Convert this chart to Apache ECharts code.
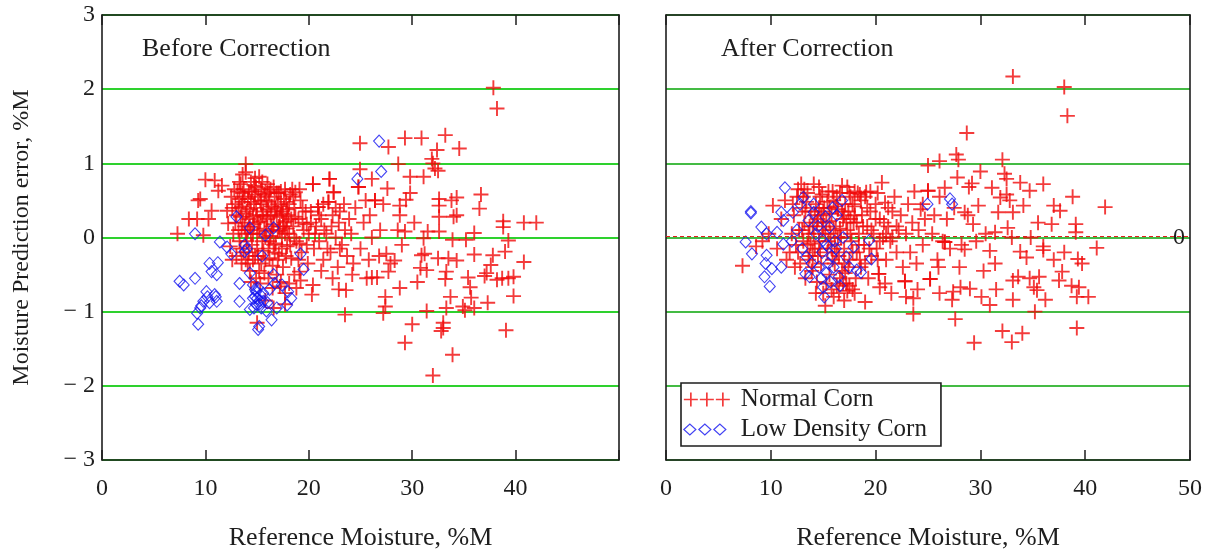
<!DOCTYPE html>
<html>
<head>
<meta charset="utf-8">
<script src="https://cdn.jsdelivr.net/npm/echarts@6/dist/echarts.min.js"></script>
<style>
html,body{margin:0;padding:0;background:#fff;}
#c{width:1217px;height:556px;}
</style>
</head>
<body>
<div id="c"></div>
<script>
// ---- data (x = reference moisture %M, y = prediction error %M) ----
const xTicks = [0, 10, 20, 30, 40, 50];
const yTicks = [-3, -2, -1, 0, 1, 2, 3];

const beforeNormal = [
[7.3,0.05],[8.4,0.25],[9.2,0.25],[9.5,0.52],[9.3,0.50],[9.8,0.03],[10.3,0.25],[10.0,0.78],[10.9,0.77],[10.6,0.36],
[11.25,0.63],[11.6,0.70],[12.1,0.36],[12.2,0.19],[12.5,0.55],[12.8,0.65],[12.9,0.45],[13.9,0.99],[13.9,0.88],[13.4,0.72],
[13.6,0.60],[13.0,0.30],[13.2,0.10],[13.3,-0.05],[13.5,0.42],[13.6,0.20],[13.7,-0.20],[13.8,0.55],[13.9,0.05],[14.0,0.35],
[14.1,-0.35],[14.2,0.62],[14.3,0.15],[14.4,0.48],[14.5,-0.10],[14.6,0.28],[14.7,0.70],[14.8,-0.25],[14.9,0.40],[15.0,0.05],
[15.1,0.55],[15.2,-0.45],[15.3,0.22],[15.4,0.65],[15.5,-0.05],[15.6,0.35],[15.7,0.12],[15.8,-0.30],[15.9,0.50],[16.0,0.25],
[16.1,-0.15],[16.2,0.60],[16.3,0.02],[16.4,0.42],[16.5,-0.38],[16.6,0.18],[16.7,0.55],[16.8,-0.08],[16.9,0.30],[17.0,0.45],
[17.1,-0.22],[17.2,0.10],[17.3,0.62],[17.4,0.35],[17.5,-0.40],[17.6,0.20],[17.7,0.05],[17.8,0.48],[17.9,-0.12],[18.0,0.30],
[18.2,0.58],[18.3,-0.28],[18.5,0.15],[18.6,0.40],[18.8,-0.05],[19.0,0.25],[19.2,0.50],[19.3,-0.20],[19.5,0.10],[19.7,0.35],
[19.9,-0.35],[20.0,0.05],[20.2,0.20],[20.4,0.72],[20.5,-0.15],[20.7,0.15],[20.9,0.41],[21.0,-0.05],[21.2,0.25],[21.4,-0.30],
[21.5,0.10],[21.7,0.05],[21.9,0.48],[22.0,0.79],[22.1,-0.20],[22.3,0.30],[22.4,0.61],[22.6,0.00],[22.8,-0.40],[22.9,0.20],
[23.0,0.35],[23.2,-0.10],[23.4,0.45],[23.5,0.10],[23.7,-0.25],[23.9,0.25],[24.1,0.05],[24.3,-0.35],[24.5,0.40],[24.8,0.68],
[25.0,-0.15],[25.3,0.20],[25.5,0.50],[25.8,-0.30],[26.1,0.00],[26.4,0.50],[26.8,-0.25],[27.2,0.45],
[13.1,0.62],[13.4,-0.15],[13.6,0.48],[13.8,0.15],[14.0,-0.05],[14.2,0.25],[14.4,0.75],[14.6,0.05],[14.8,0.58],[15.0,0.30],
[15.2,0.10],[15.4,0.45],[15.6,-0.18],[15.8,0.62],[16.0,0.38],[16.2,-0.05],[16.4,0.15],[16.6,0.68],[16.8,0.40],[17.0,-0.30],
[17.2,0.28],[17.4,0.00],[17.6,0.52],[17.8,0.22],[13.3,0.75],[13.5,-0.35],[14.1,0.10],[14.3,-0.45],[14.7,0.45],[15.1,-0.25],
[15.5,0.75],[15.9,0.08],[16.3,0.30],[16.7,-0.20],[17.1,0.60],[17.5,0.15],[17.9,0.38],[18.1,0.05],[18.4,0.65],[18.7,0.28],
[19.1,-0.08],[19.4,0.40],[19.8,0.18],[14.9,-0.55],[15.3,-0.62],[15.7,-0.48],[16.1,-0.55],[16.5,-0.68],[16.9,-0.50],[17.3,-0.60],
[14.4,-0.60],[15.0,-1.15],[15.8,-0.85],[16.6,-0.95],[17.7,-0.75],[18.1,-0.62],[18.6,-0.50],[19.2,-0.58],[13.0,-0.25],[12.7,0.05],
[12.6,0.40],[12.4,-0.12],[20.4,-0.64],[18.8,-0.68],[20.3,-0.77],[17.2,-0.66],[17.7,-0.90],[19.1,-0.46],[20.4,0.72],[18.7,0.61],
[19.1,0.65],[20.9,0.41],[21.9,0.48],
[13.2,0.40],[13.4,0.28],[13.7,0.65],[13.9,0.32],[14.1,0.52],[14.3,0.38],[14.5,0.62],[14.7,0.18],[14.9,0.68],[15.1,0.20],
[15.3,0.50],[15.5,0.30],[15.7,0.58],[15.9,0.28],[16.1,0.48],[16.3,0.65],[16.5,0.10],[16.7,0.35],[16.9,0.60],[17.1,0.15],
[17.3,0.42],[17.5,0.32],[17.7,0.65],[17.9,0.12],[18.1,0.45],[18.3,0.25],[18.5,0.55],[13.5,0.10],[13.9,-0.30],[14.2,-0.20],
[14.6,-0.30],[15.0,-0.15],[15.4,-0.35],[15.8,0.00],[16.2,-0.28],[16.6,-0.10],[17.0,0.08],[17.4,-0.15],[17.8,-0.25],[18.2,-0.10],
[18.6,0.00],[19.0,-0.30],[19.4,0.20],[19.8,-0.10],[20.2,0.35],[20.6,0.05],[21.0,0.30],[21.4,0.45],[21.8,-0.15],[22.2,0.15],
[22.6,0.40],[23.0,-0.15],[13.6,0.85],[14.8,0.80],[16.0,0.72],[15.2,0.82],[13.3,0.52],[12.9,0.20],[12.6,-0.30],[14.4,0.05],
[37.85,2.02],[38.2,1.74],[24.95,1.27],[27.7,1.22],[29.3,1.34],[30.9,1.34],[33.2,1.38],[32.4,1.18],[34.55,1.20],[31.9,1.06],
[32.0,1.00],[28.65,0.99],[32.5,0.90],[32.2,0.93],[24.95,0.92],[29.8,0.82],[31.1,0.82],[22.0,0.79],[26.1,0.79],[27.6,0.66],
[24.8,0.68],[22.4,0.61],[36.65,0.58],[34.3,0.54],[33.8,0.50],[32.6,0.52],[32.6,0.43],[26.4,0.50],[29.4,0.51],[28.8,0.43],
[36.5,0.39],[28.8,0.30],[32.6,0.28],[34.0,0.28],[34.3,0.30],[38.8,0.22],[38.8,0.14],[40.8,0.20],[42.0,0.20],[39.3,-0.04],
[32.6,0.08],[31.5,0.08],[36.0,0.06],[35.2,-0.03],[33.9,-0.03],[31.1,-0.01],[28.6,0.10],[29.3,0.08],[38.98,-0.19],[37.8,-0.24],
[37.6,-0.37],[36.0,-0.23],[34.3,-0.31],[32.5,-0.28],[33.5,-0.28],[30.9,-0.24],[31.2,-0.22],[30.8,-0.41],[31.4,-0.44],[40.8,-0.33],
[27.5,-0.22],[28.3,-0.31],[27.9,-0.35],[33.3,-0.46],[33.2,-0.56],[35.4,-0.54],[35.6,-0.67],[37.2,-0.48],[37.0,-0.52],[38.2,-0.57],
[38.7,-0.55],[39.3,-0.55],[39.8,-0.53],[39.8,-0.79],[37.3,-0.88],[35.7,-0.81],[33.7,-0.80],[34.9,-0.93],[36.0,-0.95],[33.3,-0.95],
[35.1,-0.98],[31.4,-0.99],[27.4,-0.80],[27.4,-0.93],[27.2,-1.02],[28.8,-0.68],[26.1,-0.54],[26.6,-0.54],[27.7,-0.46],[23.5,-1.04],
[22.9,-0.70],[23.6,-0.71],[30.0,-1.17],[33.0,-1.15],[33.0,-1.22],[32.8,-1.26],[39.07,-1.25],[29.3,-1.42],[33.9,-1.58],[32.0,-1.86],
[29.0,-0.10],[30.2,0.20],[30.5,-0.60],[29.8,0.60],[25.9,0.30],[26.9,0.10],[24.2,-0.50],[25.6,-0.55],[21.2,-0.45],[22.3,-0.55]
];

const beforeLow = [
[9.0,0.05],[13.0,0.28],[14.3,0.13],[16.6,0.13],[15.8,0.03],[11.4,-0.06],[12.1,-0.13],[12.5,-0.22],[13.8,-0.10],[14.0,-0.15],
[13.8,-0.19],[15.5,-0.25],[19.2,-0.22],[19.5,-0.43],[10.4,-0.35],[11.2,-0.34],[10.6,-0.46],[11.1,-0.50],[7.5,-0.59],[7.9,-0.64],
[9.0,-0.55],[13.3,-0.62],[14.3,-0.48],[14.6,-0.64],[14.9,-0.73],[14.8,-0.80],[15.3,-0.77],[15.6,-0.86],[15.9,-0.99],[16.6,-0.50],
[16.7,-0.62],[17.4,-0.64],[18.0,-0.73],[18.3,-0.82],[17.9,-0.91],[10.1,-0.73],[10.9,-0.77],[11.1,-0.86],[9.8,-0.86],[9.5,-0.95],
[9.2,-1.02],[9.3,-1.17],[10.4,-0.88],[13.3,-0.86],[14.3,-0.97],[15.1,-1.24],[15.2,-1.20],[16.4,-1.11],[16.9,-0.95],[24.7,0.79],
[26.8,1.30],[27.0,0.89],[14.8,-0.70],[15.0,-0.82],[15.2,-0.90],[15.4,-0.95],[14.9,-0.90],[15.6,-0.75],[16.0,-0.88],[14.7,-0.95],
[9.6,-0.92],[10.2,-0.80],[11.0,-0.80],[15.1,-0.68],[15.3,-0.85],[14.6,-0.82],[16.2,-0.70]
];

const afterNormal = [
[7.3,-0.38],[8.6,-0.12],[9.2,-0.05],[9.8,0.05],[10.2,0.43],[10.6,-0.15],[11.0,0.25],[11.35,0.50],[11.5,-0.30],[12.9,0.72],
[14.1,0.72],[12.2,0.30],[12.4,-0.10],[12.5,0.55],[12.7,0.10],[12.8,-0.35],[13.0,0.40],[13.1,-0.05],[13.2,0.20],[13.3,-0.55],
[13.5,0.60],[13.6,0.05],[13.7,-0.25],[13.8,0.35],[13.9,-0.45],[14.0,0.15],[14.2,-0.15],[14.3,0.45],[14.4,-0.60],[14.5,0.25],
[14.6,-0.05],[14.7,0.55],[14.8,-0.35],[14.9,0.10],[15.0,-0.75],[15.1,0.40],[15.2,-0.92],[15.3,0.20],[15.4,-0.20],[15.5,0.62],
[15.6,-0.50],[15.7,0.05],[15.8,0.32],[15.9,-0.30],[16.0,0.50],[16.1,-0.10],[16.2,0.15],[16.3,-0.65],[16.4,0.38],[16.5,-0.25],
[16.6,0.60],[16.7,0.00],[16.8,-0.45],[16.9,0.25],[17.0,-0.15],[17.1,0.45],[17.2,-0.62],[17.3,0.10],[17.4,0.35],[17.5,-0.30],
[17.6,0.55],[17.7,-0.05],[17.8,-0.70],[17.9,0.20],[18.0,0.42],[18.2,-0.20],[18.3,0.60],[18.4,0.05],[18.6,-0.40],[18.7,0.30],
[18.9,-0.10],[19.0,0.55],[19.1,0.61],[19.2,0.15],[19.3,-0.55],[19.5,0.35],[19.6,-0.25],[19.8,0.05],[20.0,0.45],[20.1,-0.15],
[20.3,-0.49],[20.4,-0.67],[20.4,0.25],[20.6,0.74],[20.7,0.00],[20.9,0.47],[21.0,-0.30],[21.2,0.15],[21.4,-0.05],[21.6,0.35],
[21.8,0.55],[22.0,-0.20],[22.2,0.10],[22.4,0.30],[22.6,-0.40],[22.8,-0.59],[22.9,0.05],[23.1,0.45],[23.3,-0.20],[23.5,0.20],
[23.7,0.62],[23.9,-0.35],[24.1,0.10],[24.3,0.38],[24.5,-0.10],[24.7,0.25],[25.0,0.63],[25.2,-0.56],[25.4,0.05],[25.6,0.30],
[25.9,-0.30],[26.1,0.55],[26.4,-0.05],[26.6,-0.06],[26.8,0.25],[27.1,-0.15],
[13.4,0.48],[13.8,-0.08],[14.2,0.30],[14.6,0.40],[15.0,0.15],[15.4,0.48],[15.8,-0.15],[16.2,0.42],[16.6,0.12],[17.0,0.30],
[17.4,-0.40],[17.8,0.45],[18.2,0.20],[18.6,0.50],[19.0,-0.35],[13.1,0.55],[13.6,-0.30],[14.0,-0.40],[14.5,-0.25],[15.0,0.35],
[15.6,0.22],[16.1,-0.35],[16.6,-0.55],[17.1,-0.48],[17.6,0.25],[18.1,-0.55],[15.3,-0.62],[16.0,-0.80],[16.5,-0.75],[17.0,-0.85],
[17.3,-0.72],[12.6,0.65],[13.2,0.65],[14.9,0.58],[15.9,0.62],[16.3,0.55],[17.5,0.60],[18.0,0.62],[18.5,0.58],[12.0,0.05],
[11.8,-0.20],[12.3,-0.40],[12.1,0.45],[19.0,-0.87],[17.5,-0.65],[18.0,-0.75],[20.3,-0.49],[20.9,-0.62],
[13.3,0.35],[13.7,0.15],[14.1,0.05],[14.4,0.20],[14.8,0.30],[15.2,0.05],[15.6,0.40],[16.0,0.10],[16.4,0.00],[16.8,0.35],
[17.2,0.20],[17.6,0.05],[18.0,0.30],[18.4,-0.10],[18.8,0.15],[19.2,0.40],[19.6,0.10],[20.0,0.25],[20.4,-0.05],[20.8,0.20],
[21.2,0.40],[21.6,0.00],[22.0,0.15],[13.5,-0.10],[14.0,-0.20],[14.7,-0.15],[15.5,-0.05],[16.3,-0.20],[17.0,-0.35],[17.8,-0.20],
[18.5,-0.30],[19.4,-0.15],[20.2,-0.30],[21.0,0.05],[14.3,-0.75],[15.8,-0.70],[16.9,-0.62],[13.0,0.10],[12.6,-0.20],[14.6,0.68],
[16.8,0.70],[17.3,0.68],[19.5,0.62],[20.2,0.60],
[33.1,2.17],[38.0,2.03],[38.3,1.64],[28.7,1.41],[25.0,0.97],[26.1,1.03],[27.7,1.12],[27.9,1.05],[32.1,1.05],[30.0,0.89],
[27.8,0.81],[32.5,0.79],[32.3,0.86],[29.2,0.73],[28.9,0.68],[26.6,0.67],[31.1,0.67],[33.8,0.74],[34.7,0.63],[36.0,0.72],
[38.8,0.55],[41.9,0.41],[25.0,0.63],[32.5,0.58],[32.8,0.50],[31.9,0.54],[29.8,0.43],[28.5,0.34],[28.8,0.30],[34.1,0.43],
[37.0,0.43],[37.6,0.36],[31.7,0.34],[33.1,0.34],[36.8,0.18],[39.1,0.18],[39.1,0.07],[41.1,-0.14],[31.4,0.07],[32.6,0.13],
[33.0,0.00],[34.8,0.00],[36.0,-0.12],[36.0,-0.17],[29.3,0.18],[29.6,-0.05],[28.2,-0.10],[28.5,-0.16],[26.6,-0.06],[33.8,-0.19],
[34.4,-0.27],[38.0,-0.20],[37.0,-0.30],[39.3,-0.29],[39.7,-0.35],[31.4,-0.35],[30.9,-0.18],[33.1,-0.58],[33.6,-0.53],[34.7,-0.55],
[35.6,-0.53],[37.8,-0.46],[37.5,-0.58],[38.7,-0.65],[39.4,-0.67],[39.2,-0.80],[40.3,-0.80],[35.1,-0.67],[35.4,-0.71],[36.2,-0.84],
[35.2,-1.00],[31.5,-0.70],[30.1,-0.80],[30.9,-0.91],[33.1,-0.84],[29.0,-0.69],[28.1,-0.67],[27.4,-0.73],[27.3,-0.84],[26.1,-0.75],
[27.6,-1.10],[23.6,-0.82],[22.9,-0.80],[23.6,-1.03],[22.8,-0.59],[25.2,-0.56],[39.2,-1.22],[32.1,-1.26],[33.0,-1.41],[34.0,-1.29],
[29.4,-1.42],[30.5,0.05],[27.5,0.40],[24.0,-0.70],[21.5,-0.75],[26.0,-0.40],[24.5,0.45],[30.3,-0.45],[35.5,0.20],[28.0,-0.40]
];

const afterLow = [
[11.35,0.67],[8.1,0.33],[8.1,0.35],[7.6,-0.06],[9.1,0.14],[9.6,0.05],[8.2,-0.22],[9.6,-0.24],[9.5,-0.35],[11.2,-0.09],
[10.6,0.07],[11.0,-0.40],[10.1,-0.42],[9.4,-0.53],[9.9,-0.66],[11.0,0.34],[12.1,0.34],[11.2,0.23],[13.1,0.54],[14.1,0.45],
[13.6,0.23],[14.1,0.34],[16.8,0.50],[15.6,0.14],[15.0,-0.04],[15.3,-0.10],[14.9,-0.20],[13.4,-0.26],[13.3,-0.49],[13.7,-0.53],
[16.9,0.00],[17.9,-0.13],[17.2,-0.26],[16.0,-0.40],[16.5,-0.53],[15.3,-0.48],[18.2,-0.44],[18.6,-0.47],[15.0,-0.67],[19.6,-0.29],
[19.4,-0.04],[24.95,0.45],[27.1,0.52],[27.3,0.45],[12.5,0.10],[13.0,-0.15],[14.5,0.15],[15.2,0.28],[15.8,-0.25],[16.2,-0.15],
[15.5,-0.35],[14.8,-0.55],[16.3,0.30],[14.3,0.05],[15.9,0.40],[12.8,0.45],[16.6,-0.65],[17.5,-0.40],[15.1,-0.80],[12.0,-0.05],
[13.9,-0.35],[14.6,-0.40],[15.7,-0.60],[16.1,-0.05]
];

// ---- styling ----
const FONT = 'Liberation Serif';
const TXT = '#1e1e1e';
const crossPath = 'path://M0,6H12M6,0V12';
const crossLegend = 'path://M0,7H14M7,0V14M16,7H30M23,0V14M32,7H46M39,0V14';
const diaLegend = 'path://M0,7L6,1.5L12,7L6,12.5ZM15,7L21,1.5L27,7L21,12.5ZM30,7L36,1.5L42,7L36,12.5ZM46,0L46,0M46,14L46,14M0,0L0,0';
const RED = '#f00a0a';
const BLUE = '#1414f0';
const redStyle = {color: 'transparent', borderColor: RED, borderWidth: 1.9};
const blueStyle = {color: 'transparent', borderColor: BLUE, borderWidth: 1.1};

function yLab(v) { return v < 0 ? '\u2212 ' + Math.abs(v) : String(v); }

const frameLine = {show: true, onZero: false, lineStyle: {color: TXT, width: 1.6}};

function xAxisBottom(grid, hide50) {
  return {
    gridIndex: grid, type: 'value', position: 'bottom', min: 0, max: 50, interval: 10,
    axisLine: frameLine,
    axisTick: {show: true, inside: true, length: 10, lineStyle: {color: TXT, width: 1.5}},
    axisLabel: {fontFamily: FONT, fontSize: 24, color: TXT, margin: 17,
      formatter: v => (hide50 && v === 50) ? '' : String(v)},
    splitLine: {show: false},
    name: 'Reference Moisture, %M', nameLocation: 'middle', nameGap: 65,
    nameTextStyle: {fontFamily: FONT, fontSize: 26, color: TXT}
  };
}
function xAxisTop(grid) {
  return {
    gridIndex: grid, type: 'value', position: 'top', min: 0, max: 50, interval: 10,
    axisLine: frameLine,
    axisTick: {show: true, inside: true, length: 10, lineStyle: {color: TXT, width: 1.5}},
    axisLabel: {show: false}, splitLine: {show: false}
  };
}

const chart = echarts.init(document.getElementById('c'), null, {renderer: 'canvas'});
chart.setOption({
  animation: false,
  backgroundColor: '#fff',
  title: [
    {text: 'Before Correction', left: 137, top: 31, textStyle: {fontFamily: FONT, fontSize: 26, fontWeight: 'normal', color: TXT}},
    {text: 'After Correction', left: 716, top: 31, textStyle: {fontFamily: FONT, fontSize: 26, fontWeight: 'normal', color: TXT}}
  ],
  grid: [
    {left: 102, top: 15, width: 517, height: 448},
    {left: 666, top: 15, width: 524, height: 447}
  ],
  xAxis: [xAxisBottom(0, true), xAxisTop(0), xAxisBottom(1, false), xAxisTop(1)],
  yAxis: [
    {gridIndex: 0, type: 'value', position: 'left', min: -3, max: 3, interval: 1,
     axisLine: frameLine, axisTick: {show: false},
     axisLabel: {fontFamily: FONT, fontSize: 24, color: TXT, margin: 7, formatter: yLab},
     splitLine: {show: true, lineStyle: {color: '#2ed12e', width: 2}},
     name: 'Moisture Prediction error, %M', nameLocation: 'middle', nameGap: 68, nameRotate: 90,
     nameTextStyle: {fontFamily: FONT, fontSize: 24, color: TXT}},
    {gridIndex: 0, type: 'value', position: 'right', min: -3, max: 3, interval: 1,
     axisLine: frameLine, axisTick: {show: false},
     axisLabel: {show: false}, splitLine: {show: false}},
    {gridIndex: 1, type: 'value', position: 'left', min: -3, max: 3, interval: 1,
     axisLine: frameLine, axisTick: {show: false},
     axisLabel: {show: false},
     splitLine: {show: true, lineStyle: {color: '#44bb44', width: 2}}},
    {gridIndex: 1, type: 'value', position: 'right', min: -3, max: 3, interval: 1,
     axisLine: frameLine, axisTick: {show: false},
     axisLabel: {show: true, inside: true, margin: 5, fontFamily: FONT, fontSize: 24, color: TXT,
       formatter: v => v === 0 ? '0' : ''},
     splitLine: {show: false}}
  ],
  legend: {
    left: 681, top: 383, orient: 'vertical',
    backgroundColor: '#fff', borderColor: TXT, borderWidth: 1.6,
    padding: [4, 14, 4, 2], itemGap: 5, itemWidth: 46, itemHeight: 14,
    textStyle: {fontFamily: FONT, fontSize: 25, color: TXT, padding: [0, 0, 0, 6]},
    data: [
      {name: 'Normal Corn', icon: crossLegend, itemStyle: {color: 'transparent', borderColor: RED, borderWidth: 1.7}},
      {name: 'Low Density Corn', icon: diaLegend, itemStyle: {color: 'transparent', borderColor: BLUE, borderWidth: 1.2}}
    ]
  },
  series: [
    {name: 'Normal Corn', type: 'scatter', xAxisIndex: 0, yAxisIndex: 0, data: beforeNormal,
     symbol: crossPath, symbolSize: 15, itemStyle: redStyle, z: 3},
    {name: 'Low Density Corn', type: 'scatter', xAxisIndex: 0, yAxisIndex: 0, data: beforeLow,
     symbol: 'diamond', symbolSize: [11, 12], itemStyle: blueStyle, z: 4},
    {name: 'Normal Corn', type: 'scatter', xAxisIndex: 2, yAxisIndex: 2, data: afterNormal,
     symbol: crossPath, symbolSize: 15, itemStyle: redStyle, z: 3,
     markLine: {silent: true, symbol: 'none', label: {show: false},
       lineStyle: {color: '#e02020', type: [4, 3], width: 1},
       data: [{yAxis: 0.02}]}},
    {name: 'Low Density Corn', type: 'scatter', xAxisIndex: 2, yAxisIndex: 2, data: afterLow,
     symbol: 'diamond', symbolSize: [11, 12], itemStyle: blueStyle, z: 4}
  ]
});
</script>
</body>
</html>
